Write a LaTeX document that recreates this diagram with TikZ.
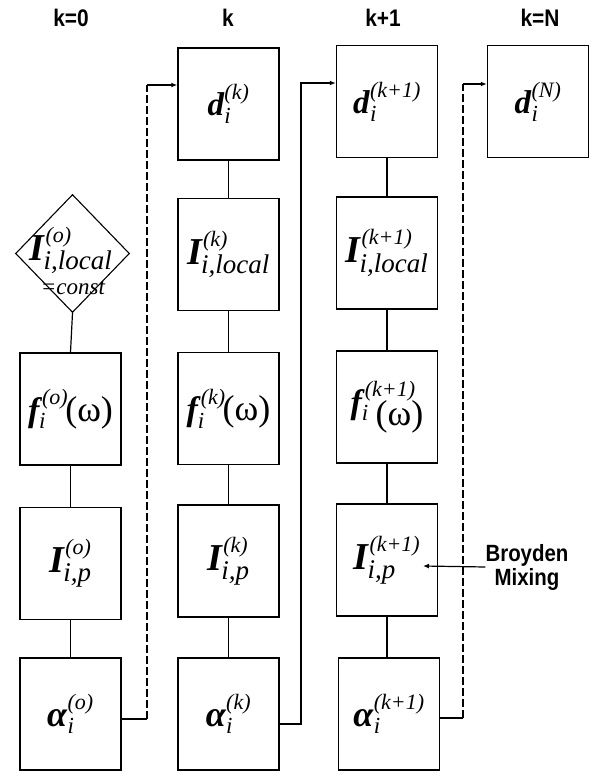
\documentclass[tikz,border=0pt]{standalone}
\usepackage{fix-cm}
\usepackage{amsmath}
\usepackage{fontspec}
\setmainfont{Liberation Serif}
\newfontfamily\hdfont{Liberation Sans}[FakeStretch=0.87]
\usetikzlibrary{shapes.geometric,arrows.meta,calc}
\newcommand\bi[1]{\textbf{\textit{#1}}}
\newcommand\supf{\fontsize{22}{22}\selectfont\itshape}
\newcommand\subf{\fontsize{27}{27}\selectfont\itshape}
\newcommand\subs{\fontsize{23}{23}\selectfont\itshape}
% #1 size, #2 letter, #3 sup, #4 sub (text with font), #5 sub kern
\newcommand\sy[5]{{\fontsize{#1}{#1}\selectfont$\bi{#2}^{\text{\supf #3}}_{\kern#5\text{#4}}$}}
\newcommand\om{\fontsize{36}{36}\selectfont(ω)}
\begin{document}
\begin{tikzpicture}[x=1pt,y=-1pt,
  box/.style={draw, line width=1.5pt, minimum width=101pt, minimum height=112pt, inner sep=0pt},
  link/.style={line width=1.2pt},
  dashlink/.style={line width=1.2pt, dash pattern=on 8pt off 3pt},
  tip/.style={-{Latex[length=6pt,width=5pt]}},
  title/.style={font=\hdfont\bfseries\fontsize{24}{26}\selectfont, anchor=base, inner sep=0pt}]
\useasboundingbox (0,0) rectangle (598,771);
% titles
\node[title] (t0) at (71,27) {k=0};
\node[title] (t1) at (228,27) {k};
\node[title] (t2) at (383,27) {k+1};
\node[title] (t3) at (540,27) {k=N};
% column k=0
\node[draw, diamond, line width=1.1pt, minimum width=114pt, minimum height=118pt, inner sep=0pt] (d0) at (72.5,253.5) {};
\node[anchor=base, inner sep=0pt] (d0t) at (71,260) {\sy{38}{I}{(o)}{\subf i,local}{-2pt}};
\node[anchor=base, font=\fontsize{23}{26}\selectfont\itshape, inner sep=0pt] (d0c) at (73,294) {=const};
\node[box] (f0) at (70.5,409) {\sy{34}{f}{(o)}{\subs i}{-3pt}\kern-3pt\om};
\node[box] (Ip0) at (70.5,563.5) {\sy{38}{I}{(o)}{\subf i,p}{-2pt}};
\node[box] (a0) at (70.5,714) {\sy{36}{α}{(o)}{\subs i}{0pt}};
% column k
\node[box] (dk) at (228.5,104) {\sy{33}{d}{(k)}{\subs i}{0pt}};
\node[box] (Ilk) at (228.5,254.5) {\sy{38}{I}{(k)}{\subf i,local}{-2pt}};
\node[box] (fk) at (228.5,408.5) {\sy{34}{f}{(k)}{\subs i}{-3pt}\kern-3pt\om};
\node[box] (Ipk) at (228.5,561) {\sy{38}{I}{(k)}{\subf i,p}{-2pt}};
\node[box] (ak) at (228.5,714) {\sy{36}{α}{(k)}{\subs i}{0pt}};
% column k+1
\node[box] (d1) at (387,101.5) {\sy{33}{d}{(k+1)}{\subs i}{0pt}};
\node[box] (Il1) at (387,253) {\sy{38}{I}{(k+1)}{\subf i,local}{-2pt}};
\node[box] (f1) at (387,407) {\sy{34}{f}{(k+1)}{\subs i}{-3pt}\kern-40pt\raisebox{-12pt}{\om}};
\node[box] (Ip1) at (387,560) {\sy{38}{I}{(k+1)}{\subf i,p}{-2pt}};
\node[box] (a1) at (389,714) {\sy{36}{α}{(k+1)}{\subs i}{0pt}};
% column N
\node[box] (dN) at (538,101.5) {\sy{33}{d}{(N)}{\subs i}{0pt}};
% vertical links
\draw[link] (d0.south) -- (f0.north);
\draw[link] (f0) -- (Ip0);
\draw[link] (Ip0) -- (a0);
\draw[link] (dk) -- (Ilk);
\draw[link] (Ilk) -- (fk);
\draw[link] (fk) -- (Ipk);
\draw[link] (Ipk) -- (ak);
\draw[link] (d1) -- (Il1);
\draw[link] (Il1) -- (f1);
\draw[link] (f1) -- (Ip1);
\draw[link] (Ip1.south) -- (Ip1.south |- a1.north);
% feedback 1
\coordinate (c1s) at ($(a0.east)+(0,5)$);
\coordinate (c1a) at (147,719);
\coordinate (c1b) at (147,85);
\coordinate (c1e) at ($(dk.west)+(0,-19)$);
\draw[link] (c1s) -- (c1a);
\draw[dashlink] (c1a) -- (c1b);
\draw[link,tip] (c1b) -- (c1e);
% feedback 2
\coordinate (c2s) at ($(ak.east)+(0,10)$);
\coordinate (c2a) at (301,724);
\coordinate (c2b) at (301,83);
\coordinate (c2e) at ($(d1.west)+(0,-18.5)$);
\draw[link,tip] (c2s) -- (c2a) -- (c2b) -- (c2e);
% feedback 3
\coordinate (c3s) at ($(a1.east)+(0,4)$);
\coordinate (c3a) at (463,718);
\coordinate (c3b) at (463,84);
\coordinate (c3e) at ($(dN.west)+(0,-17.5)$);
\draw[link] (c3s) -- (c3a);
\draw[dashlink] (c3a) -- (c3b);
\draw[link,tip] (c3b) -- (c3e);
% Broyden mixing
\node[font=\hdfont\bfseries\fontsize{23.5}{24}\selectfont, align=center, inner sep=0pt] (bm) at (527,567) {Broyden\\Mixing};
\coordinate (bme) at ($(Ip1.center)+(36,6)$);
\draw[link,tip] (bm.west) -- (bme);
\end{tikzpicture}
\end{document}
